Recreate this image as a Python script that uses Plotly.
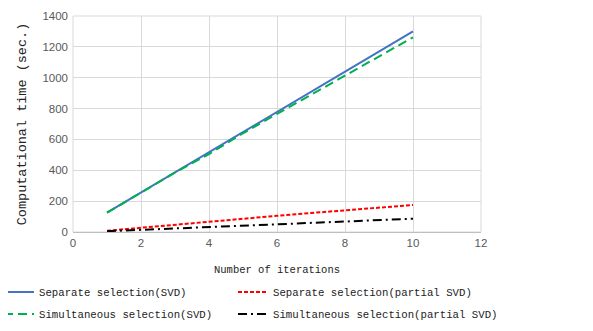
import plotly.graph_objects as go

iterations = [1, 2, 3, 4, 5, 6, 7, 8, 9, 10]
sep_svd = [125, 255, 385, 520, 650, 780, 910, 1040, 1170, 1300]
sim_svd = [125, 255, 385, 505, 640, 765, 890, 1010, 1140, 1262]
sep_partial = [8, 28, 46, 65, 85, 105, 123, 140, 158, 175]
sim_partial = [5, 14, 23, 32, 41, 50, 59, 68, 77, 86]

names = ["Separate selection(SVD)", "Separate selection(partial SVD)",
         "Simultaneous selection(SVD)", "Simultaneous selection(partial SVD)"]

# the page body has an 8px default margin, so figure coords are page coords - 8
OFF = 8
L, T, W, H = 73 - OFF, 16 - OFF, 408, 216
FW, FH = 593, 331


def px_x(p):
    return (p - OFF - L) / W


def px_y(p):
    return 1 - (p - OFF - T) / H


fig = go.Figure()
fig.add_trace(go.Scatter(x=iterations, y=sep_svd, mode="lines", name=names[0], legend="legend",
                         line=dict(color="#4472C4", width=2, dash="solid")))
fig.add_trace(go.Scatter(x=iterations, y=sep_partial, mode="lines", name=names[1], legend="legend2",
                         line=dict(color="#FF0000", width=2, dash="4px,2px")))
fig.add_trace(go.Scatter(x=iterations, y=sim_svd, mode="lines", name=names[2], legend="legend3",
                         line=dict(color="#00B050", width=2, dash="9px,5px")))
fig.add_trace(go.Scatter(x=iterations, y=sim_partial, mode="lines", name=names[3], legend="legend4",
                         line=dict(color="#000000", width=2, dash="9px,4px,2px,4px")))

mono = "Liberation Mono"
leg_font = dict(family=mono, size=10.7, color="#222")


def leg(xp, yp):
    return dict(x=px_x(xp), xanchor="left", y=px_y(yp), yanchor="middle",
                font=leg_font, bgcolor="rgba(0,0,0,0)", borderwidth=0, itemwidth=30)


fig.update_layout(
    width=FW, height=FH,
    margin=dict(l=L, r=FW - L - W, t=T, b=FH - T - H, autoexpand=False),
    paper_bgcolor="white", plot_bgcolor="white",
    font=dict(family=mono, size=11, color="#222"),
    xaxis=dict(range=[0, 12], dtick=2, showgrid=True, gridcolor="#d9d9d9", gridwidth=1,
               zeroline=False, showline=True, linecolor="#bfbfbf", mirror=False,
               tickfont=dict(family="Liberation Sans", size=11.5, color="#595959"),
               title=dict(text="Number of iterations", font=dict(family=mono, size=10.5, color="#222"), standoff=17)),
    yaxis=dict(range=[0, 1400], dtick=200, showgrid=True, gridcolor="#d9d9d9", gridwidth=1,
               zeroline=False, showline=False, ticklabelstandoff=4,
               tickfont=dict(family="Liberation Sans", size=11.5, color="#595959"),
               title=dict(text="Computational time (sec.)", font=dict(family=mono, size=13.5, color="#222"), standoff=12)),
    legend=leg(-1, 292),
    legend2=leg(233, 292),
    legend3=leg(-1, 314),
    legend4=leg(233, 314),
    showlegend=True,
)
fig.add_shape(type="rect", xref="paper", yref="paper", x0=0, x1=1, y0=0, y1=1,
              line=dict(color="#d9d9d9", width=1), layer="below")

fig.write_html("out.html")
